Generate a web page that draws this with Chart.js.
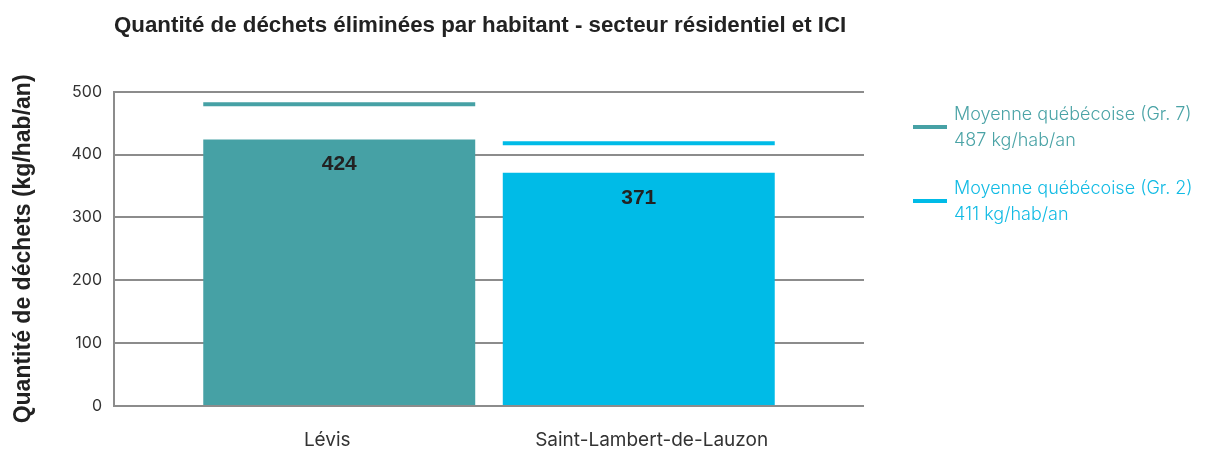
<!DOCTYPE html>
<html>
<head>
<meta charset="utf-8">
<script src="https://cdn.jsdelivr.net/npm/chart.js@4/dist/chart.umd.min.js"></script>
<style>
  html, body { margin: 0; padding: 0; background: #fff; }
  #wrap { position: relative; width: 1211px; height: 452px; }
  #c { position: absolute; left: 0; top: 0; }
  .leg { position: absolute; left: 913px; font-family: Inter, "Noto Sans", sans-serif; font-weight: 300; font-size: 18px; line-height: 26px; }
  .leg .sw { position: absolute; left: 0; width: 34px; height: 4px; }
  .leg .tx { position: absolute; left: 41px; white-space: nowrap; }
</style>
</head>
<body>
<div id="wrap">
  <canvas id="c" width="1211" height="452"></canvas>
  <div class="leg" id="leg"></div>
</div>
<script>
const title = 'Quantité de déchets éliminées par habitant - secteur résidentiel et ICI';
const yTitle = 'Quantité de déchets (kg/hab/an)';
const categories = ['Lévis', 'Saint-Lambert-de-Lauzon'];
const values = [424, 371];
const barColors = ['#46A1A5', '#00BBE7'];
// average lines as drawn in the picture (kg/hab/an)
const averageLines = [480, 418];
const legendTitles = ['Moyenne québécoise (Gr. 7)', 'Moyenne québécoise (Gr. 2)'];
const legendValues = ['487 kg/hab/an', '411 kg/hab/an'];
const legendColors = ['#4AA3A6', '#12BBE4'];
const yTicks = [0, 100, 200, 300, 400, 500];

const avgPlugin = {
  id: 'avgLines',
  afterDatasetsDraw(chart) {
    const ctx = chart.ctx;
    const meta = chart.getDatasetMeta(0);
    const y = chart.scales.y;
    meta.data.forEach((bar, i) => {
      const half = bar.width / 2;
      const py = y.getPixelForValue(averageLines[i]);
      ctx.save();
      ctx.strokeStyle = barColors[i];
      ctx.lineWidth = 4;
      ctx.beginPath();
      ctx.moveTo(bar.x - half, py);
      ctx.lineTo(bar.x + half, py);
      ctx.stroke();
      ctx.fillStyle = '#222';
      ctx.font = 'bold 21px "Liberation Sans", Arial, sans-serif';
      ctx.textAlign = 'center';
      ctx.textBaseline = 'middle';
      ctx.fillText(String(values[i]), bar.x, bar.y + 25);
      ctx.restore();
    });
  }
};

new Chart(document.getElementById('c'), {
  type: 'bar',
  data: {
    datasets: [{
      data: values.map((v, i) => ({ x: i + 1, y: v })),
      backgroundColor: barColors,
      borderWidth: 0,
      categoryPercentage: 1,
      barPercentage: 0.908
    }]
  },
  options: {
    responsive: false,
    animation: false,
    events: [],
    layout: { padding: { left: 0, right: 347, top: 0, bottom: 0 } },
    plugins: {
      legend: { display: false },
      tooltip: { enabled: false },
      title: {
        display: true,
        text: title,
        fullSize: false,
        align: 'start',
        color: '#222',
        font: { family: '"Liberation Sans", Arial, sans-serif', size: 22.3, weight: 'bold', lineHeight: 1.2 },
        padding: { top: 12, bottom: 53 }
      }
    },
    scales: {
      x: {
        type: 'linear',
        min: 0.248,
        max: 2.752,
        offset: false,
        grid: { display: false, drawTicks: false },
        border: { display: false },
        afterBuildTicks(scale) {
          scale.ticks = [{ value: 0.96 }, { value: 2.043 }];
        },
        afterFit(scale) { scale.height = 46; },
        ticks: {
          autoSkip: false,
          maxRotation: 0,
          padding: 23,
          color: '#333',
          font: { family: 'Inter, "Noto Sans", sans-serif', size: 19 },
          callback: (v, i) => categories[i]
        }
      },
      y: {
        min: 0,
        max: 500,
        afterBuildTicks(scale) {
          scale.ticks = yTicks.map(v => ({ value: v }));
        },
        afterFit(scale) { scale.width = 114; },
        grid: { color: '#8C8C8C', lineWidth: 2, drawTicks: false },
        border: { color: '#8C8C8C', width: 2 },
        ticks: {
          padding: 12,
          color: '#333',
          font: { family: 'Inter, "Noto Sans", sans-serif', size: 16 }
        },
        title: {
          display: true,
          text: yTitle,
          color: '#222',
          font: { family: '"Liberation Sans", Arial, sans-serif', size: 23, weight: 'bold', lineHeight: 1.2 },
          padding: { top: 10, bottom: 0 }
        }
      }
    }
  },
  plugins: [avgPlugin]
});

const leg = document.getElementById('leg');
const legTops = [101, 175];
legendTitles.forEach((t, i) => {
  const block = document.createElement('div');
  block.style.position = 'absolute';
  block.style.top = legTops[i] + 'px';
  block.style.left = '0px';
  block.style.color = legendColors[i];
  const sw = document.createElement('div');
  sw.className = 'sw';
  sw.style.top = '24px';
  sw.style.background = barColors[i];
  const tx = document.createElement('div');
  tx.className = 'tx';
  const l1 = document.createElement('div'); l1.textContent = t;
  const l2 = document.createElement('div'); l2.textContent = legendValues[i];
  tx.appendChild(l1); tx.appendChild(l2);
  block.appendChild(sw); block.appendChild(tx);
  leg.appendChild(block);
});
</script>
</body>
</html>
